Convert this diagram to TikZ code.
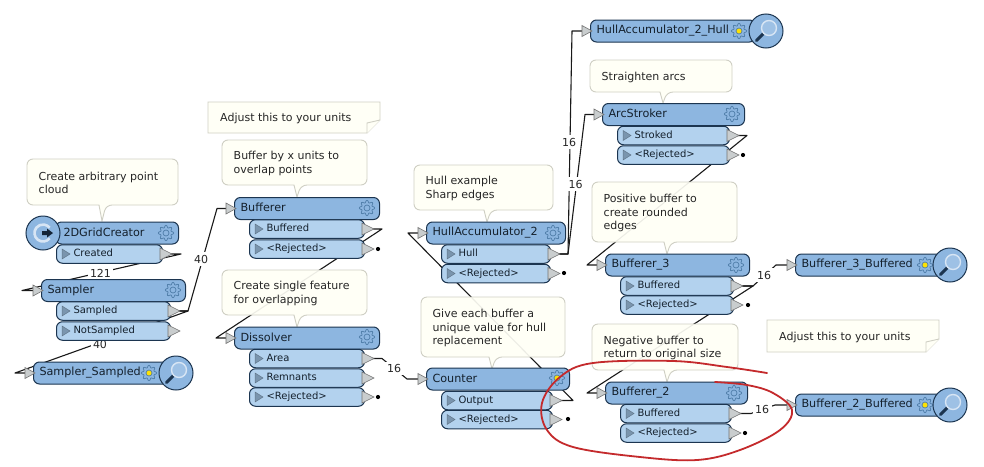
\documentclass[tikz,border=0pt]{standalone}
\usepackage{fontspec}
\setmainfont{DejaVu Sans}
\pgfdeclarelayer{links}
\pgfsetlayers{links,main}
\definecolor{hdrblue}{HTML}{8DB6E0}
\definecolor{portblue}{HTML}{B3D2EE}
\definecolor{edgeblue}{HTML}{1C3550}
\definecolor{bubfill}{HTML}{FFFFF6}
\definecolor{bubline}{HTML}{CFCFC4}
\definecolor{trifill}{HTML}{C9CDCE}
\definecolor{penred}{HTML}{C42A2C}
\definecolor{gearblue}{HTML}{4F7DA8}
\definecolor{minifill}{HTML}{7A95AE}
\definecolor{inktext}{HTML}{14202C}
\tikzset{
  x=1pt,y=-1pt,
  hdrbox/.style={draw=edgeblue,fill=hdrblue,line width=1pt,rounded corners=6pt,inner sep=0pt,minimum height=22pt,font=\fontsize{11.2}{13}\selectfont,text=inktext},
  portbox/.style={draw=edgeblue,fill=portblue,line width=1pt,rounded corners=6pt,inner sep=0pt,minimum height=18.5pt,font=\fontsize{10}{12}\selectfont,text=inktext},
  tritip/.style={draw=gray!90!black,fill=trifill,line width=.6pt},
  minitri/.style={draw=minifill!80!black,fill=minifill,line width=.5pt},
  conn/.style={draw=black!90,line width=1.1pt,line join=round},
  bub/.style={draw=bubline,fill=bubfill,fill opacity=.92,line width=.9pt},
  bubtext/.style={inner sep=0pt,anchor=west,align=left,font=\fontsize{11}{13.7}\selectfont,text=black!85},
  lbl/.style={inner sep=2.5pt,fill=white,font=\fontsize{11}{12}\selectfont,text=black!85},
  gearline/.style={draw=gearblue,line width=.7pt},
  notebox/.style={draw=bubline,fill=bubfill,line width=.9pt}
}
% input triangle at header west
\newcommand{\intri}[2]{\draw[tritip] (#1-8,#2-5.5) -- (#1+2,#2) -- (#1-8,#2+5.5) -- cycle;}
\newcommand{\outtri}[2]{\draw[tritip] (#1-2,#2-6) -- (#1+10,#2) -- (#1-2,#2+6) -- cycle;}
\newcommand{\gear}[3]{\begin{scope}[shift={(#1,#2)}]
  \draw[gearline] plot[domain=0:360,samples=65,smooth] ({\x}:{6.5+1.2*cos(8*\x)}) -- cycle;
  \draw[gearline,fill=#3] (0,0) circle (3);
\end{scope}}
\newcommand{\hdr}[5]{% id x1 x2 yc title
  \pgfmathsetlengthmacro\boxw{#3-#2}
  \node[hdrbox,anchor=west] (#1) at (#2,#4) {\makebox[\boxw][l]{\vphantom{Agd}\hspace{6pt}#5}};
  \intri{#2}{#4}}
\newcommand{\port}[5]{% id x1 x2 yc title
  \pgfmathsetlengthmacro\boxw{#3-#2}
  \node[portbox,anchor=west] (#1) at (#2,#4) {\makebox[\boxw][l]{\vphantom{Agd}\hspace{17pt}#5}};
  \draw[minitri] (#2+6,#4-5) -- (#2+14,#4) -- (#2+6,#4+5) -- cycle;
  \outtri{#3}{#4}}
\newcommand{\rejdot}[2]{\fill[black] (#1,#2) circle (2.1);}
\newcommand{\lens}[2]{\begin{scope}[shift={(#1,#2)}]
  \draw[draw=edgeblue,fill=hdrblue,line width=1pt] (0,0) circle (17);
  \draw[draw=edgeblue,line width=3pt,line cap=round] (-2.5,2.5) -- (-9.5,9.5);
  \draw[draw=white!65!hdrblue,line width=1.4pt,fill=hdrblue!85!white] (3,-3) circle (7.5);
\end{scope}}
\newcommand{\bubble}[8]{% id x1 y1 x2 y2 tailx tipy text
  \draw[bub] [rounded corners=6pt] (#2,#3) -- (#4,#3) -- (#4,#5) -- (#6+4,#5) [sharp corners] -- (#6,#7) -- (#6-3,#5) [rounded corners=6pt] -- (#2,#5) -- cycle;
  \node[bubtext] (#1) at (#2+11.5,{(#3+#5)/2+1}) {#8};}
\newcommand{\note}[6]{% id x1 y1 x2 y2 text
  \draw[notebox] (#2,#3) -- (#4,#3) -- (#4,#5-13) -- (#4-13,#5) -- (#2,#5) -- cycle;
  \draw[notebox] (#4,#5-13) -- (#4-13,#5-10) -- (#4-13,#5);
  \node[bubtext] (#1) at (#2+12,{(#3+#5)/2+1}) {#6};}
\begin{document}
\begin{tikzpicture}
\useasboundingbox (0,0) rectangle (984,466);
\begin{pgfonlayer}{links}
\fill[white] (0,0) rectangle (984,466);
\end{pgfonlayer}

% --- left column
\bubble{bA}{27}{159}{178}{205}{102}{221}{Create arbitrary point\\cloud}
\hdr{grid}{55}{178}{233}{\hspace{2pt}2DGridCreator}
\gear{166}{233}{hdrblue}
\port{created}{56}{162}{254}{Created}
\begin{scope}[shift={(43,233)}]
  \draw[draw=edgeblue,fill=hdrblue,line width=1pt] (0,0) circle (17);
  \draw[draw=white!65!hdrblue,line width=2.6pt] (38:8.5) arc (38:322:8.5);
  \fill[edgeblue!70!black] (-1,-2) rectangle (4,2) (4,-4.5) -- (10,0) -- (4,4.5) -- cycle;
\end{scope}
\hdr{sampler}{41}{185}{290.5}{Sampler}
\gear{173}{290}{hdrblue}
\port{sampled}{56}{170}{311}{Sampled}
\port{notsampled}{56}{170}{331}{NotSampled}
\hdr{samplerout}{33}{170}{373}{Sampler\_Sampled}
\gear{149}{373}{yellow!85!orange}
\lens{176}{373}

% --- second column
\note{nA}{208}{102}{380}{133}{Adjust this to your units}
\bubble{bB}{222}{140}{367}{185}{297}{197}{Buffer by x units to\\overlap points}
\hdr{bufferer}{234}{379}{208.5}{Bufferer}
\gear{367}{208}{hdrblue}
\port{buffered}{249}{364}{229}{Buffered}
\port{rejA}{249}{364}{249}{<Rejected>}
\rejdot{378}{249}
\bubble{bC}{222}{270}{367}{315}{297}{327}{Create single feature\\for overlapping}
\hdr{dissolver}{234}{379}{338}{Dissolver}
\gear{367}{337}{hdrblue}
\port{area}{249}{364}{358.5}{Area}
\port{remnants}{249}{364}{378}{Remnants}
\port{rejB}{249}{364}{397}{<Rejected>}
\rejdot{378}{397}

% --- third column
\bubble{bD}{414}{165}{553}{210}{487}{222}{Hull example\\Sharp edges}
\hdr{hull}{426}{565}{233}{HullAccumulator\_2}
\gear{553}{233}{hdrblue}
\port{hullp}{441}{550}{254}{Hull}
\port{rejC}{441}{550}{273.5}{<Rejected>}
\rejdot{564}{273}
\bubble{bE}{421}{297}{565}{357}{492}{369}{Give each buffer a\\unique value for hull\\replacement}
\hdr{counter}{426}{569}{379}{Counter}
\gear{557}{378}{yellow!85!orange}
\port{output}{441}{552}{400.5}{Output}
\port{rejD}{441}{552}{419.5}{<Rejected>}
\rejdot{568}{419}

% --- fourth column
\hdr{hullout}{590}{755}{31}{HullAccumulator\_2\_Hull}
\gear{739}{31}{yellow!85!orange}
\lens{766}{31}
\bubble{bF}{590}{60}{732}{92}{663}{103}{Straighten arcs}
\hdr{arc}{602}{744}{114.5}{ArcStroker}
\gear{732}{114}{hdrblue}
\port{stroked}{617}{729}{135.5}{Stroked}
\port{rejE}{617}{729}{155}{<Rejected>}
\rejdot{743}{155}
\bubble{bG}{592}{182}{737}{242}{667}{254}{Positive buffer to\\create rounded\\edges}
\hdr{bthree}{605}{749}{265}{Bufferer\_3}
\gear{736}{265}{hdrblue}
\port{bthreeb}{620}{733}{286}{Buffered}
\port{rejF}{620}{733}{305}{<Rejected>}
\rejdot{748}{305}
\bubble{bH}{592}{324}{738}{370}{667}{382}{Negative buffer to\\return to original size}
\hdr{btwo}{605}{747}{393}{Bufferer\_2}
\gear{734}{393}{hdrblue}
\port{btwob}{620}{731}{413.5}{Buffered}
\port{rejG}{620}{731}{433}{<Rejected>}
\rejdot{745}{433}

% --- right column
\hdr{bthreeout}{795}{950}{265}{Bufferer\_3\_Buffered}
\gear{925}{265}{yellow!85!orange}
\lens{950}{265}
\note{nB}{767}{320}{939}{352}{Adjust this to your units}
\hdr{btwoout}{795}{950}{405}{Bufferer\_2\_Buffered}
\gear{925}{405}{yellow!85!orange}
\lens{950}{405}

% --- connectors
\begin{pgfonlayer}{links}
\draw[conn] (created.east) -- ++(18,0) -- ([xshift=-19pt]sampler.west) -- (sampler.west);
\draw[conn] (sampled.east) -- ++(17,0) -- ([xshift=-17pt]bufferer.west) -- (bufferer.west);
\draw[conn] (sampled.east) -- ++(17,0) -- ([xshift=-18pt]samplerout.west) -- (samplerout.west);
\draw[conn] (buffered.east) -- ++(17,0) -- ([xshift=-18pt]dissolver.west) -- (dissolver.west);
\draw[conn] (area.east) -- ++(17,0) -- ([xshift=-19pt]counter.west) -- (counter.west);
\draw[conn] (output.east) -- ++(20,0) -- ([xshift=-18pt]hull.west) -- (hull.west);
\draw[conn] (hullp.east) -- ++(17,0) -- ([xshift=-18pt]hullout.west) -- (hullout.west);
\draw[conn] (hullp.east) -- ++(17,0) -- ([xshift=-17pt]arc.west) -- (arc.west);
\draw[conn] (stroked.east) -- ++(17,0) -- ([xshift=-18pt]bthree.west) -- (bthree.west);
\draw[conn] (bthreeb.east) -- ++(19,0) -- ([xshift=-19pt]bthreeout.west) -- (bthreeout.west);
\draw[conn] (bthreeb.east) -- ++(19,0) -- ([xshift=-18pt]btwo.west) -- (btwo.west);
\draw[conn] (btwob.east) -- ++(19,0) -- ([xshift=-20pt]btwoout.west) -- (btwoout.west);
\end{pgfonlayer}

% --- counts
\begin{pgfonlayer}{links}
\node[lbl] (c1) at (100.5,273) {121};
\node[lbl] (c2) at (201,259) {40};
\node[lbl] (c3) at (100,344) {40};
\node[lbl] (c4) at (394,368.5) {16};
\node[lbl] (c5) at (569,142) {16};
\node[lbl] (c6) at (575.5,184) {16};
\node[lbl] (c7) at (764,275) {16};
\node[lbl] (c8) at (762,409.5) {16};
\end{pgfonlayer}

% --- red pen
\draw[penred,line width=1.8pt,line cap=round] plot[smooth,tension=.6] coordinates {(767,373) (727,367) (673,361) (593,363) (560,377) (542,403) (547,430) (573,447) (640,457) (697,460) (740,450) (780,430) (792,410) (773,393) (747,385) (715,382)};
\end{tikzpicture}
\end{document}
